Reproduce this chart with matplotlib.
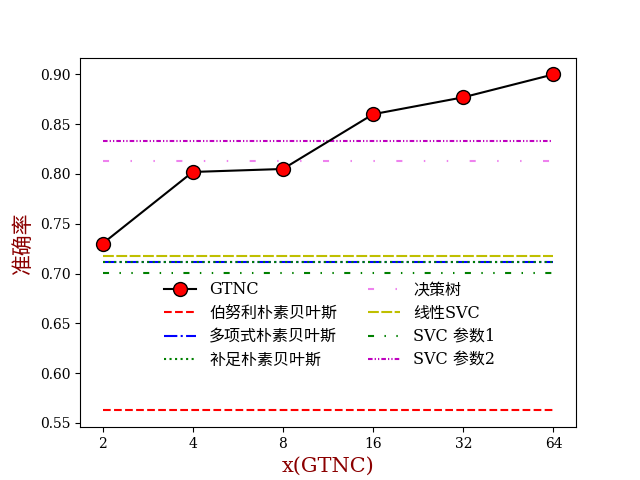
import matplotlib
matplotlib.use("Agg")
import matplotlib.pyplot as plt
from matplotlib.ticker import FixedLocator, FixedFormatter, NullLocator

plt.rcParams['font.family'] = ['DejaVu Serif', 'Noto Sans CJK SC']

x_vals = [2, 4, 8, 16, 32, 64]
x_labels = ['2', '4', '8', '16', '32', '64']
gtnc = [0.730, 0.802, 0.805, 0.860, 0.877, 0.900]

baseline_names = ['伯努利朴素贝叶斯', '多项式朴素贝叶斯', '补足朴素贝叶斯',
                  '决策树', '线性SVC', 'SVC 参数1', 'SVC 参数2']
baseline_vals = [0.5625, 0.712, 0.712, 0.8135, 0.7175, 0.701, 0.8335]
baseline_colors = ['red', 'blue', 'green', 'violet', 'y', 'green', 'm']
baseline_styles = ['--', '-.', ':',
                   (0, (2.9, 10.3, 0.7, 10.3, 0.7, 10.3)),
                   (0, (5.2, 1.2)),
                   (0, (2.9, 5, 0.7, 5, 0.7, 5)),
                   (0, (2.2, 1, 0.6, 1, 0.6, 1))]

fig, ax = plt.subplots(figsize=(6.4, 4.8), dpi=100)
ax.plot(x_vals, gtnc, color='black', marker='o', markersize=10,
        markerfacecolor='red', markeredgecolor='black', lw=1.5, label='GTNC', zorder=5)
for name, v, c, ls in zip(baseline_names, baseline_vals, baseline_colors, baseline_styles):
    ax.plot([x_vals[0], x_vals[-1]], [v, v], color=c, linestyle=ls, lw=1.5, label=name)

ax.set_xscale('log', base=2)
ax.xaxis.set_major_locator(FixedLocator(x_vals))
ax.xaxis.set_major_formatter(FixedFormatter(x_labels))
ax.xaxis.set_minor_locator(NullLocator())

ax.set_xlabel('x(GTNC)', color='darkred', fontsize=15)
ax.set_ylabel('准确率', color='darkred', fontsize=15,
              family=['Noto Sans CJK SC', 'DejaVu Serif'])

leg = ax.legend(ncol=2, frameon=False,
                loc='upper left', bbox_to_anchor=(150/640, 1 - 267/480),
                bbox_transform=fig.transFigure, columnspacing=1.95,
                labelspacing=0.4,
                prop={'family': ['DejaVu Serif', 'Noto Sans CJK SC'], 'size': 11.5})

fig.savefig('out.png', dpi=100)
